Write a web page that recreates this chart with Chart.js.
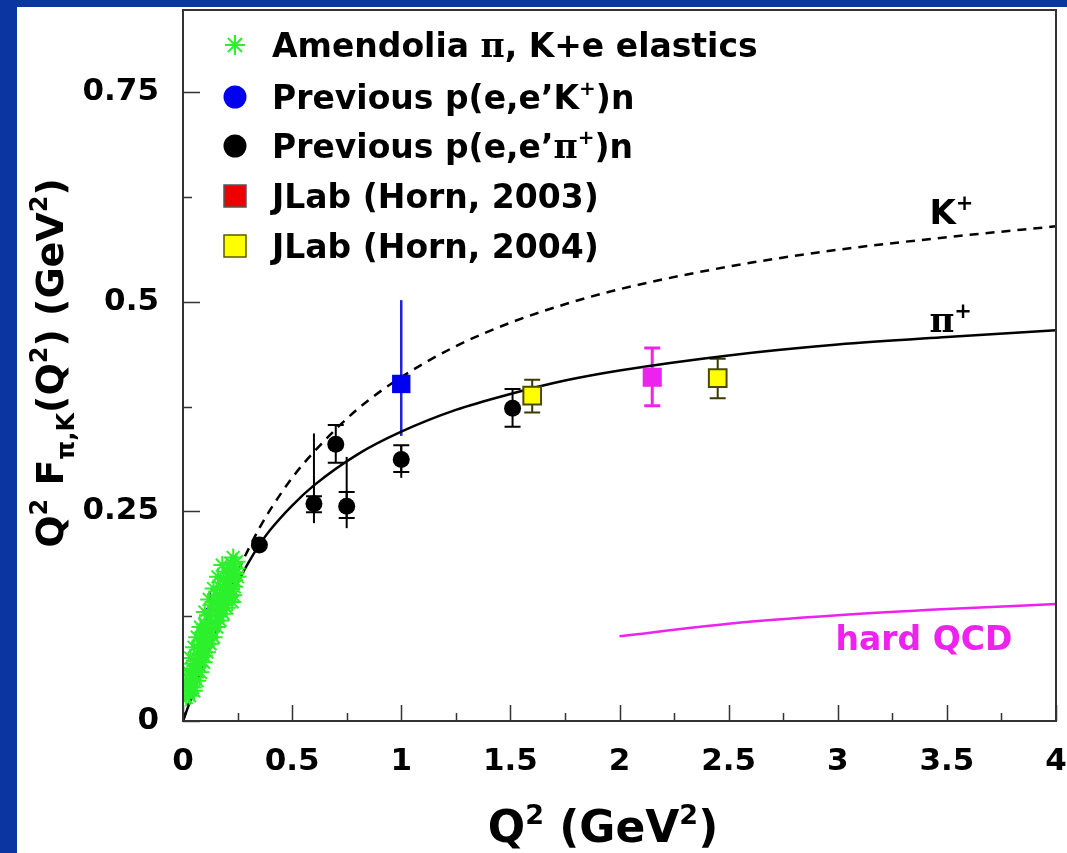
<!DOCTYPE html>
<html lang="en">
<head>
<meta charset="UTF-8">
<title>Pion and kaon form factors</title>
<script src="https://cdn.jsdelivr.net/npm/chart.js"></script>
<style>
  html, body { margin: 0; padding: 0; }
  body { width: 1067px; height: 853px; background: #0b35a0; position: relative; overflow: hidden; }
  .panel { position: absolute; left: 17px; top: 7px; right: 0; bottom: 0; background: #fff; }
  #chart { position: absolute; left: 0; top: 0; }
</style>
</head>
<body>
<div class="panel"></div>
<canvas id="chart" width="1067" height="853"></canvas>
<script>
// curves
const curveQ2     = [0, 0.05, 0.1, 0.15, 0.2, 0.25, 0.3, 0.35, 0.4, 0.5, 0.6, 0.8, 1.0, 1.25, 1.5, 1.75, 2.0, 2.5, 3.0, 3.5, 4.0];
const pionCurve   = [0, 0.036, 0.071, 0.104, 0.136, 0.165, 0.189, 0.210, 0.228, 0.257, 0.281, 0.318, 0.345, 0.371, 0.390, 0.406, 0.418, 0.436, 0.449, 0.458, 0.466];
const kaonCurve   = [0, 0.040, 0.079, 0.115, 0.148, 0.178, 0.205, 0.230, 0.252, 0.290, 0.321, 0.372, 0.410, 0.447, 0.475, 0.497, 0.515, 0.542, 0.562, 0.577, 0.590];
const hardQ2      = [2.0, 2.5, 3.0, 3.5, 4.0];
const hardQCD     = [0.101, 0.116, 0.126, 0.1335, 0.1395];

// Amendolia pi, K + e elastic data
const amendQ2  = [0.015, 0.025, 0.020, 0.030, 0.045, 0.035, 0.040, 0.055, 0.060, 0.045, 0.060, 0.075, 0.070, 0.055,
                  0.080, 0.095, 0.070, 0.090, 0.105, 0.080, 0.100, 0.120, 0.090, 0.110, 0.130, 0.100, 0.120, 0.145,
                  0.115, 0.160, 0.135, 0.155, 0.175, 0.140, 0.165, 0.190, 0.200, 0.155, 0.180, 0.210, 0.225, 0.170,
                  0.195, 0.220, 0.230, 0.185, 0.210, 0.235, 0.200, 0.225, 0.240, 0.220, 0.245, 0.230,
                  0.030, 0.050, 0.065, 0.080, 0.095, 0.110, 0.125, 0.140, 0.155, 0.170, 0.185, 0.200, 0.215, 0.235,
                  0.250, 0.245, 0.010, 0.020, 0.035, 0.050, 0.065, 0.080, 0.100, 0.120, 0.140, 0.160, 0.180];
const amendVal = [0.028, 0.032, 0.038, 0.042, 0.040, 0.048, 0.055, 0.052, 0.060, 0.062, 0.068, 0.066, 0.074, 0.072,
                  0.080, 0.078, 0.085, 0.090, 0.088, 0.096, 0.100, 0.098, 0.105, 0.110, 0.108, 0.115, 0.120, 0.118,
                  0.126, 0.125, 0.132, 0.130, 0.134, 0.142, 0.140, 0.138, 0.145, 0.150, 0.152, 0.148, 0.142, 0.160,
                  0.162, 0.158, 0.150, 0.170, 0.172, 0.168, 0.178, 0.182, 0.176, 0.188, 0.190, 0.195,
                  0.030, 0.036, 0.048, 0.058, 0.070, 0.082, 0.092, 0.100, 0.112, 0.120, 0.128, 0.135, 0.150, 0.160,
                  0.172, 0.182, 0.045, 0.060, 0.075, 0.088, 0.100, 0.112, 0.130, 0.145, 0.158, 0.172, 0.186];
// low Q2 kaon errors (dark blue, mostly hidden)
const kLowQ2  = [0.035, 0.05, 0.07, 0.09, 0.11, 0.125];
const kLowVal = [0.045, 0.060, 0.075, 0.095, 0.110, 0.125];
const kLowLo  = [0.033, 0.045, 0.055, 0.073, 0.085, 0.095];
const kLowHi  = [0.057, 0.075, 0.095, 0.117, 0.135, 0.155];

// previous p(e,e'pi+)n
const piQ2    = [0.35, 0.60, 0.70, 0.75, 1.00, 1.51];
const piVal   = [0.210, 0.259, 0.330, 0.256, 0.312, 0.373];
const piLo    = [null, 0.249, 0.308, 0.242, 0.297, 0.351];
const piHi    = [null, 0.268, 0.353, 0.273, 0.329, 0.396];
const piTotLo = [null, 0.236, null, 0.230, 0.290, null];
const piTotHi = [null, 0.343, null, 0.315, 0.329, null];

// previous p(e,e'K+)n
const kQ2 = [1.0], kVal = [0.402], kLo = [0.340], kHi = [0.502];

// JLab points
const horn04Q2 = [1.60, 2.45], horn04Val = [0.388, 0.409], horn04Lo = [0.368, 0.385], horn04Hi = [0.407, 0.432];
const projQ2 = [2.15], projVal = [0.410], projLo = [0.376], projHi = [0.445];

const FONT = "'DejaVu Sans', sans-serif";
const SERIF = "'DejaVu Serif', serif";
const GREEN = '#2cf02c';
const MAGENTA = '#ee22ee';

const pts = (xs, ys) => xs.map((x, i) => ({ x: x, y: ys[i] }));
const fmt = v => String(+v.toFixed(2));

function richText(ctx, parts, x, y, size, align) {
  const pieces = parts.map(([t, k, fam]) => {
    const s = k === 'n' ? size : Math.round(size * 0.62);
    const f = 'bold ' + s + 'px ' + (fam || FONT);
    ctx.font = f;
    return { t: t, k: k, f: f, w: ctx.measureText(t).width };
  });
  const total = pieces.reduce((a, p) => a + p.w, 0);
  let cx = align === 'center' ? x - total / 2 : x;
  ctx.textAlign = 'left';
  ctx.textBaseline = 'alphabetic';
  pieces.forEach(p => {
    ctx.font = p.f;
    const dy = p.k === 'sup' ? -size * 0.42 : p.k === 'sub' ? size * 0.28 : 0;
    ctx.fillText(p.t, cx, y + dy);
    cx += p.w;
  });
}

const errorBars = {
  id: 'errorBars',
  beforeDatasetsDraw(chart) {
    const { ctx, scales: { x, y } } = chart;
    ctx.save();
    chart.data.datasets.forEach(ds => {
      if (!ds.errLo) return;
      ctx.strokeStyle = ds.errColor;
      ctx.lineWidth = ds.errWidth;
      ds.data.forEach((p, i) => {
        const px = x.getPixelForValue(p.x);
        if (ds.totLo && ds.totLo[i] != null) {
          ctx.beginPath();
          ctx.moveTo(px, y.getPixelForValue(ds.totLo[i]));
          ctx.lineTo(px, y.getPixelForValue(ds.totHi[i]));
          ctx.stroke();
        }
        if (ds.errLo[i] == null) return;
        const lo = y.getPixelForValue(ds.errLo[i]);
        const hi = y.getPixelForValue(ds.errHi[i]);
        ctx.beginPath();
        ctx.moveTo(px, lo);
        ctx.lineTo(px, hi);
        if (ds.cap) {
          ctx.moveTo(px - ds.cap, lo); ctx.lineTo(px + ds.cap, lo);
          ctx.moveTo(px - ds.cap, hi); ctx.lineTo(px + ds.cap, hi);
        }
        ctx.stroke();
      });
    });
    ctx.restore();
  }
};

const frame = {
  id: 'frame',
  afterDatasetsDraw(chart) {
    const { ctx, chartArea: a, scales: { x, y } } = chart;
    ctx.save();
    ctx.strokeStyle = '#333';
    ctx.lineWidth = 2;
    ctx.strokeRect(a.left, a.top, a.right - a.left, a.bottom - a.top);
    ctx.lineWidth = 1.5;
    ctx.beginPath();
    for (let v = 0; v <= 4.001; v += 0.25) {
      const px = Math.round(x.getPixelForValue(v)) + 0.5;
      const len = Math.abs(v * 2 - Math.round(v * 2)) < 1e-6 ? 16 : 8;
      ctx.moveTo(px, a.bottom); ctx.lineTo(px, a.bottom - len);
    }
    for (let v = 0; v <= 0.8; v += 0.125) {
      const py = Math.round(y.getPixelForValue(v)) + 0.5;
      const len = Math.abs(v * 4 - Math.round(v * 4)) < 1e-6 ? 17 : 9;
      ctx.moveTo(a.left, py); ctx.lineTo(a.left + len, py);
    }
    ctx.stroke();
    ctx.restore();
  }
};

const labels = {
  id: 'labels',
  afterDraw(chart) {
    const { ctx, chartArea: a, scales: { x, y } } = chart;
    ctx.save();
    ctx.fillStyle = '#000';

    // legend
    const mx = a.left + 52, tx = a.left + 89;
    const rows = [35, 87, 136, 186, 236];
    ctx.strokeStyle = GREEN; ctx.lineWidth = 2;
    ctx.beginPath();
    for (let k = 0; k < 4; k++) {
      const ang = k * Math.PI / 4, r = 10;
      ctx.moveTo(mx - r * Math.cos(ang), a.top + rows[0] - r * Math.sin(ang));
      ctx.lineTo(mx + r * Math.cos(ang), a.top + rows[0] + r * Math.sin(ang));
    }
    ctx.stroke();
    ctx.fillStyle = '#0000ee';
    ctx.beginPath(); ctx.arc(mx, a.top + rows[1], 11.5, 0, Math.PI * 2); ctx.fill();
    ctx.fillStyle = '#000';
    ctx.beginPath(); ctx.arc(mx, a.top + rows[2], 11.5, 0, Math.PI * 2); ctx.fill();
    ctx.fillStyle = '#ee0000';
    ctx.fillRect(mx - 11, a.top + rows[3] - 11, 22, 22);
    ctx.strokeStyle = '#555'; ctx.lineWidth = 1.5;
    ctx.strokeRect(mx - 11, a.top + rows[3] - 11, 22, 22);
    ctx.fillStyle = '#ffff00';
    ctx.fillRect(mx - 11, a.top + rows[4] - 11, 22, 22);
    ctx.strokeStyle = '#5a5a00';
    ctx.strokeRect(mx - 11, a.top + rows[4] - 11, 22, 22);

    ctx.fillStyle = '#000';
    const texts = [
      [['Amendolia ', 'n'], ['\u03c0', 'n', SERIF], [', K+e elastics', 'n']],
      [['Previous p(e,e\u2019K', 'n'], ['+', 'sup'], [')n', 'n']],
      [['Previous p(e,e\u2019', 'n'], ['\u03c0', 'n', SERIF], ['+', 'sup'], [')n', 'n']],
      [['JLab (Horn, 2003)', 'n']],
      [['JLab (Horn, 2004)', 'n']]
    ];
    texts.forEach((t, i) => richText(ctx, t, tx, a.top + rows[i] + 12, 33, 'left'));

    // curve labels
    richText(ctx, [['K', 'n'], ['+', 'sup']], x.getPixelForValue(3.42), y.getPixelForValue(0.593), 34, 'left');
    richText(ctx, [['\u03c0', 'n', SERIF], ['+', 'sup']], x.getPixelForValue(3.42), y.getPixelForValue(0.464), 34, 'left');
    ctx.fillStyle = MAGENTA;
    richText(ctx, [['hard QCD', 'n']], x.getPixelForValue(2.99), y.getPixelForValue(0.085), 33, 'left');

    // axis titles
    ctx.fillStyle = '#000';
    richText(ctx, [['Q', 'n'], ['2', 'sup'], [' (GeV', 'n'], ['2', 'sup'], [')', 'n']], 603, 842, 44, 'center');
    ctx.translate(63, 363);
    ctx.rotate(-Math.PI / 2);
    richText(ctx, [['Q', 'n'], ['2', 'sup'], [' F', 'n'], ['\u03c0,K', 'sub'], ['(Q', 'n'], ['2', 'sup'], [') (GeV', 'n'], ['2', 'sup'], [')', 'n']], 0, 0, 38, 'center');
    ctx.restore();
  }
};

const ctx = document.getElementById('chart').getContext('2d');
new Chart(ctx, {
  type: 'scatter',
  data: {
    datasets: [
      { label: 'K+ curve', type: 'line', data: pts(curveQ2, kaonCurve), borderColor: '#000', borderWidth: 2.5,
        borderDash: [9, 7], pointRadius: 0, cubicInterpolationMode: 'monotone', fill: false, order: 10 },
      { label: 'pi+ curve', type: 'line', data: pts(curveQ2, pionCurve), borderColor: '#000', borderWidth: 2.5,
        pointRadius: 0, cubicInterpolationMode: 'monotone', fill: false, order: 9 },
      { label: 'hard QCD', type: 'line', data: pts(hardQ2, hardQCD), borderColor: MAGENTA, borderWidth: 2.5,
        pointRadius: 0, cubicInterpolationMode: 'monotone', fill: false, order: 8 },
      { label: 'kaon low Q2', data: pts(kLowQ2, kLowVal), pointRadius: 0,
        errLo: kLowLo, errHi: kLowHi, errColor: '#1a2a8a', errWidth: 2, cap: 0, order: 7 },
      { label: 'Amendolia', data: pts(amendQ2, amendVal), pointStyle: 'star', pointRadius: 9,
        pointBorderColor: GREEN, pointBorderWidth: 2, pointBackgroundColor: GREEN, order: 6 },
      { label: "Previous p(e,e'pi+)n", data: pts(piQ2, piVal), pointStyle: 'circle', pointRadius: 8.5,
        pointBackgroundColor: '#000', pointBorderColor: '#000', pointBorderWidth: 0,
        errLo: piLo, errHi: piHi, totLo: piTotLo, totHi: piTotHi, errColor: '#000', errWidth: 2, cap: 8, order: 3 },
      { label: "Previous p(e,e'K+)n", data: pts(kQ2, kVal), pointStyle: 'rect', pointRadius: 13,
        pointBackgroundColor: '#0000ee', pointBorderColor: '#0000ee', pointBorderWidth: 0,
        errLo: kLo, errHi: kHi, errColor: '#2222dd', errWidth: 2.5, cap: 0, order: 2 },
      { label: 'projection', data: pts(projQ2, projVal), pointStyle: 'rect', pointRadius: 13.5,
        pointBackgroundColor: MAGENTA, pointBorderColor: MAGENTA, pointBorderWidth: 0,
        errLo: projLo, errHi: projHi, errColor: MAGENTA, errWidth: 3, cap: 8, order: 1 },
      { label: 'JLab (Horn, 2004)', data: pts(horn04Q2, horn04Val), pointStyle: 'rect', pointRadius: 12.5,
        pointBackgroundColor: '#ffff00', pointBorderColor: '#4a4a00', pointBorderWidth: 2,
        errLo: horn04Lo, errHi: horn04Hi, errColor: '#3a3a00', errWidth: 2, cap: 8, order: 0 }
    ]
  },
  options: {
    responsive: false,
    animation: false,
    layout: { autoPadding: false, padding: { left: 17, top: 10, right: 11, bottom: 0 } },
    plugins: { legend: { display: false }, tooltip: { enabled: false } },
    scales: {
      x: {
        type: 'linear', min: 0, max: 4,
        grid: { display: false, drawTicks: false },
        border: { display: false },
        ticks: { stepSize: 0.5, padding: 22, color: '#000', maxRotation: 0, autoSkip: false,
                 callback: fmt, font: { family: FONT, size: 31, weight: 'bold' } },
        afterFit: s => { s.height = 132; s.paddingLeft = 0; s.paddingRight = 0; }
      },
      y: {
        type: 'linear', min: 0, max: 0.848,
        grid: { display: false, drawTicks: false },
        border: { display: false },
        ticks: { stepSize: 0.25, includeBounds: false, padding: 24, color: '#000',
                 callback: fmt, font: { family: FONT, size: 31, weight: 'bold' } },
        afterFit: s => { s.width = 166; s.paddingTop = 0; s.paddingBottom = 0; }
      }
    }
  },
  plugins: [errorBars, frame, labels]
});
</script>
</body>
</html>
